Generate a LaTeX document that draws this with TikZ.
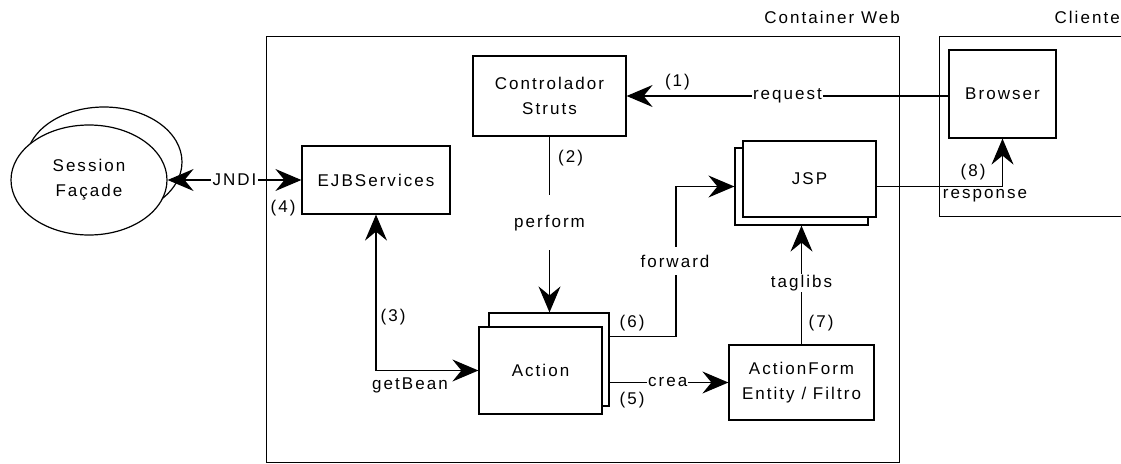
\documentclass[tikz,border=0pt]{standalone}
\usepackage{fontspec}
\setmainfont{Liberation Sans}[LetterSpace=12]
\usetikzlibrary{arrows.meta,shapes.geometric,calc}
\begin{document}
\begin{tikzpicture}[x=1pt,y=-1pt,line width=1.2pt,
  every node/.style={font=\fontsize{17}{25}\selectfont, inner sep=0pt, align=center},
  box/.style={draw, fill=white, inner sep=0pt},
  lbl/.style={fill=white, inner sep=1.5pt},
  head/.tip={Stealth[length=26pt,width=22pt,inset=9pt]},
  tip/.style={-head},
  tips/.style={head-head}]
\useasboundingbox (0,0) rectangle (1121,463);
% frames
\node[draw, anchor=north west, minimum width=633pt, minimum height=425.5pt] (web) at (266,36) {};
\node[draw, anchor=north west, minimum width=220pt, minimum height=180pt] (cli) at (939,36) {};
\node (webl) at (832,17) {Container Web};
\node[anchor=west] (clil) at (1054,17) {Cliente};
% session facade
\draw[fill=white] (104,162) ellipse [x radius=78, y radius=55];
\node[ellipse, draw, fill=white, minimum width=156pt, minimum height=110pt] (sf) at (89,180) {Session\\Façade};
% boxes
\node[box, minimum width=107pt, minimum height=88pt] (browser) at (1002.5,94) {Browser};
\node[box, minimum width=153pt, minimum height=80pt] (ctrl) at (549.5,96) {Controlador\\Struts};
\node[box, minimum width=148pt, minimum height=68pt] (ejb) at (376,180) {EJBServices};
\node[box, minimum width=133pt, minimum height=77pt] (jspb) at (801.5,186.5) {};
\node[box, minimum width=133pt, minimum height=76pt] (jspf) at (809.5,179) {JSP};
\node[box, minimum width=120pt, minimum height=93pt] (actb) at (549,359.5) {};
\node[box, minimum width=123pt, minimum height=87pt] (actf) at (540.5,370.5) {Action};
\node[box, minimum width=145pt, minimum height=75pt] (af) at (801.5,382.5) {ActionForm\\Entity / Filtro};
% connectors
\draw[tip] (browser.west |- ctrl.east) -- (ctrl.east)
  node[pos=0.5, lbl] {request}
  node[pos=0.842, above=5pt] {(1)};
\draw[tip] (ctrl.south) -- (ctrl.south |- actb.north)
  node[pos=0.49, fill=white, minimum height=55pt] {perform}
  node[pos=0.12, right=8pt] {(2)};
\draw[tips] (ejb.south) |- (actf.west);
\node (l3) at (393,317) {(3)};
\node (gb) at (410,385) {getBean};
\draw[tips] (sf.east) -- (ejb.west) node[pos=0.5, lbl] {JNDI};
\node (l4) at (283,208) {(4)};
\draw[tip] (af.west -| actb.east) -- (af.west) node[pos=0.49, fill=white, inner sep=1pt] {crea};
\node (l5) at (632,400) {(5)};
\coordinate (fw0) at ($(actb.north east)+(0,24)$);
\coordinate (fwc) at (676,186.5);
\draw[tip] (fw0) -| (fwc) -- (jspb.west);
\node[fill=white, minimum height=28pt] (fwl) at (675,261) {forward};
\node (l6) at (632,323) {(6)};
\draw[tip] (af.north) -- (jspb.south) node[pos=0.517, lbl] {taglibs};
\node (l7) at (821,323) {(7)};
\draw[tip] (jspf.east |- jspb.west) -| (browser.south);
\node (l8) at (973,172) {(8)};
\node (resp) at (985,196) {response};
\end{tikzpicture}
\end{document}
